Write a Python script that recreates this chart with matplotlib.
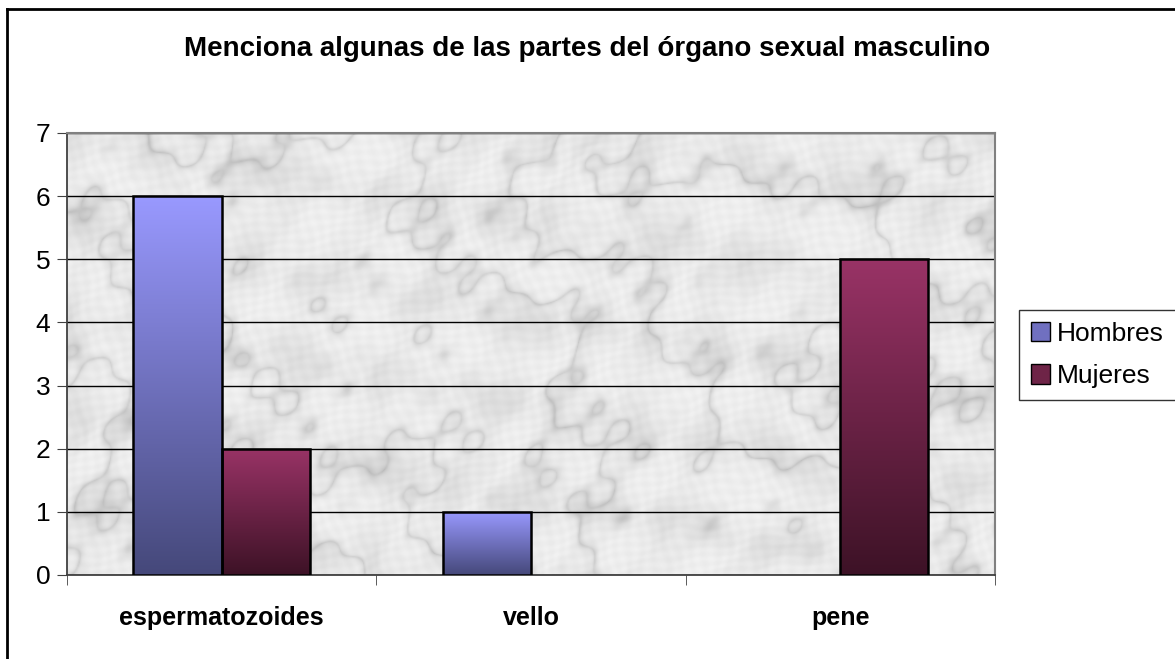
import numpy as np
import matplotlib.pyplot as plt
from matplotlib.patches import Patch
from matplotlib.colors import LinearSegmentedColormap

plt.rcParams['font.family'] = ['Liberation Sans', 'DejaVu Sans']

categories = ["espermatozoides", "vello", "pene"]
hombres = [6, 1, 0]
mujeres = [2, 0, 5]
series_names = ["Hombres", "Mujeres"]
title = "Menciona algunas de las partes del órgano sexual masculino"

# colores degradados (arriba, abajo)
grad_h = ("#9999FF", "#45487A")
grad_m = ("#993366", "#3D1226")

fig = plt.figure(figsize=(11.75, 6.59), dpi=100)
ax = fig.add_axes([0.0570, 0.1275, 0.7898, 0.6707])

# fondo tipo marmol (textura determinista, sin datos)
ny, nx = 400, 800
yy, xx = np.mgrid[0:ny, 0:nx] / 80.0
turb = (np.sin(xx * 1.1 + np.sin(yy * 1.7) * 1.5) + 0.6 * np.sin(yy * 2.3 + np.cos(xx * 0.9) * 2.0)
        + 0.4 * np.sin((xx + yy) * 3.1 + np.sin(xx * 3.7)) + 0.3 * np.sin(xx * 7.3 - yy * 6.1)
        + 0.2 * np.sin(xx * 13.1 + yy * 11.9))
veins = np.abs(np.sin(xx * 1.3 - yy * 1.1 + turb * 1.4))
clouds = 0.5 + 0.5 * np.sin(xx * 2.9 + yy * 3.7 + turb * 1.2) * np.sin(xx * 4.1 - yy * 2.3 + turb)
fine = 0.5 + 0.5 * np.sin(xx * 29.3 + yy * 23.1 + turb * 3) * np.sin(xx * 19.7 - yy * 31.3)
tex = 0.95 - 0.12 * np.exp(-veins * 5) - 0.07 * clouds ** 2 - 0.03 * fine
ax.imshow(tex, cmap="gray", vmin=0, vmax=1, extent=[-0.5, 2.5, 0, 7], aspect="auto",
          zorder=0, interpolation="bilinear")

x = np.arange(len(categories))
w = 0.285


def gradient_bars(bars, colors):
    cmap = LinearSegmentedColormap.from_list("g", [colors[1], colors[0]])
    grad = np.linspace(0, 1, 256).reshape(-1, 1)
    for b in bars:
        h = b.get_height()
        if h <= 0:
            continue
        x0 = b.get_x()
        im = ax.imshow(grad, cmap=cmap, origin="lower", aspect="auto",
                       extent=[x0, x0 + b.get_width(), 0, h], zorder=3)
        im.set_clip_path(b)


bh = ax.bar(x - w / 2, hombres, w, facecolor="none", edgecolor="black", linewidth=1.8, zorder=4)
bm = ax.bar(x + w / 2, mujeres, w, facecolor="none", edgecolor="black", linewidth=1.8, zorder=4)
for b in list(bh) + list(bm):
    if b.get_height() == 0:
        b.set_visible(False)
gradient_bars(bh, grad_h)
gradient_bars(bm, grad_m)

ax.set_xlim(-0.5, 2.5)
ax.set_ylim(0, 7)
ax.set_yticks(range(8))
ax.yaxis.grid(True, color="black", linewidth=1.0)
for gl in ax.get_ygridlines():
    gl.set_zorder(1)

ax.set_xticks(x)
ax.set_xticklabels(categories, fontsize=18, fontweight="bold")
ax.set_xticks([-0.5, 0.5, 1.5, 2.5], minor=True)
ax.tick_params(axis="x", which="major", length=0, pad=22)
ax.tick_params(axis="x", which="minor", length=7, color="#404040")
ax.tick_params(axis="y", length=7, color="#404040", labelsize=19, pad=5)

for s in ["top", "right"]:
    ax.spines[s].set_color("#808080")
    ax.spines[s].set_linewidth(1.5)
ax.spines["left"].set_color("#404040")
ax.spines["bottom"].set_color("#404040")
ax.spines["left"].set_linewidth(1.3)
ax.spines["bottom"].set_linewidth(1.3)

fig.text(0.5, 0.925, title, ha="center", va="center", fontsize=20, fontweight="bold")

handles = [Patch(facecolor="#7070C0", edgecolor="black", label=series_names[0]),
           Patch(facecolor="#6E2447", edgecolor="black", label=series_names[1])]
leg = fig.legend(handles=handles, loc="upper left", bbox_to_anchor=(0.867, 0.530),
                 fontsize=19, frameon=True, fancybox=False, handlelength=0.75, handleheight=0.75,
                 handletextpad=0.25, borderpad=0.45, labelspacing=0.7, borderaxespad=0)
leg.get_frame().set_edgecolor("black")
leg.get_frame().set_linewidth(1.0)

# borde exterior del grafico (solo izquierda y arriba visibles)
fig.add_artist(plt.Line2D([0.0060, 0.0060], [0, 0.987], color="black", linewidth=2, transform=fig.transFigure))
fig.add_artist(plt.Line2D([0.0060, 1], [0.987, 0.987], color="black", linewidth=2, transform=fig.transFigure))

fig.savefig("out.png", dpi=100)
